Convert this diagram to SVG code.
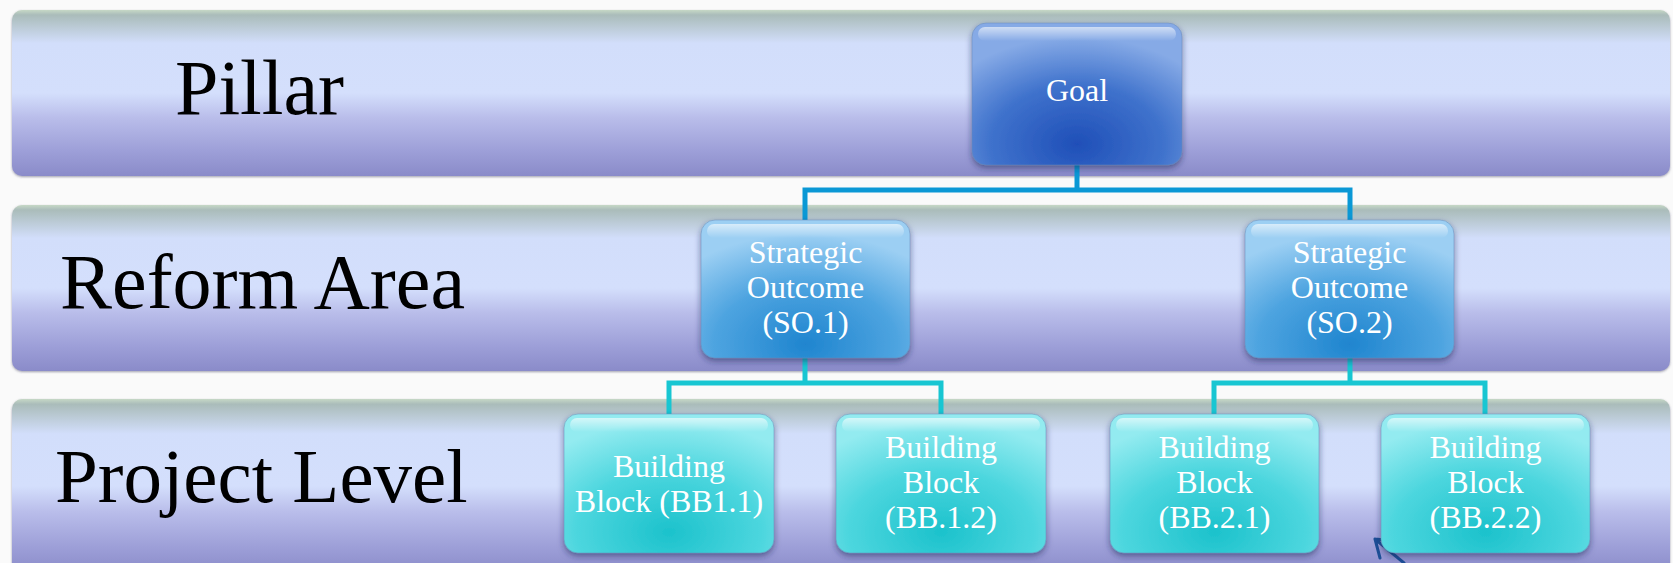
<svg xmlns="http://www.w3.org/2000/svg" width="1673" height="563" viewBox="0 0 1673 563">
<defs>
<linearGradient id="band" x1="0" y1="0" x2="0" y2="1">
<stop offset="0" stop-color="#c6d8c6"/>
<stop offset="0.03" stop-color="#aabcba"/>
<stop offset="0.2" stop-color="#d2defb"/>
<stop offset="0.5" stop-color="#d4dffc"/>
<stop offset="0.65" stop-color="#b9bdea"/>
<stop offset="0.85" stop-color="#9d9fd8"/>
<stop offset="1" stop-color="#8a8bc9"/>
</linearGradient>
<radialGradient id="goalG" cx="0.5" cy="0.85" r="0.75">
<stop offset="0" stop-color="#1f4fb8"/>
<stop offset="0.55" stop-color="#3f72cc"/>
<stop offset="1" stop-color="#86aae6"/>
</radialGradient>
<radialGradient id="soG" cx="0.5" cy="0.9" r="0.8">
<stop offset="0" stop-color="#1f85cf"/>
<stop offset="0.55" stop-color="#4ea4e0"/>
<stop offset="1" stop-color="#9ccff3"/>
</radialGradient>
<radialGradient id="bbG" cx="0.5" cy="0.85" r="0.8">
<stop offset="0" stop-color="#1cc2cc"/>
<stop offset="0.55" stop-color="#4cd6de"/>
<stop offset="1" stop-color="#93ebf0"/>
</radialGradient>
<linearGradient id="gloss" x1="0" y1="0" x2="0" y2="1">
<stop offset="0" stop-color="#ffffff" stop-opacity="0.6"/>
<stop offset="1" stop-color="#ffffff" stop-opacity="0"/>
</linearGradient>
<filter id="sh" x="-10%" y="-10%" width="120%" height="130%">
<feDropShadow dx="0" dy="3" stdDeviation="3" flood-color="#1c2a5a" flood-opacity="0.55"/>
</filter>
<filter id="bsh" x="-2%" y="-10%" width="104%" height="130%">
<feDropShadow dx="0" dy="1" stdDeviation="1.2" flood-color="#404060" flood-opacity="0.5"/>
</filter>
<style>
.band{fill:url(#band);filter:url(#bsh);}
.lbl{font-family:"Liberation Serif","DejaVu Serif",serif;fill:#000;}
.nt{font-family:"Liberation Serif","DejaVu Serif",serif;fill:#ffffff;font-size:32px;text-anchor:middle;}
.box{stroke:#6a8ab8;stroke-width:1;stroke-opacity:0.5;filter:url(#sh);}
.gl{fill:url(#gloss);}
.c1{fill:none;stroke:#0a98d5;stroke-width:5;}
.c2{fill:none;stroke:#18c6d2;stroke-width:5;}
</style>
</defs>
<rect width="1673" height="563" fill="#fafafa"/>

<g id="band-pillar">
<rect class="band" x="12" y="10" width="1658" height="166" rx="10"/>
<text class="lbl" x="175" y="114" font-size="78">Pillar</text>
</g>
<g id="band-reform">
<rect class="band" x="12" y="205" width="1658" height="166" rx="10"/>
<text class="lbl" x="60" y="308" font-size="78">Reform Area</text>
</g>
<g id="band-project">
<rect class="band" x="12" y="399" width="1658" height="174" rx="10"/>
<text class="lbl" x="55" y="502" font-size="77">Project Level</text>
</g>

<g id="connectors">
<path class="c1" d="M1077 160 V190 H805 V222 M1077 190 H1350 V222"/>
<path class="c2" d="M805 352 V383 H669 V416 M805 383 H941 V416"/>
<path class="c2" d="M1350 352 V383 H1214 V416 M1350 383 H1485 V416"/>
<path fill="none" stroke="#1c4f96" stroke-width="3" stroke-linecap="round" d="M1404 563 L1375 539 M1375 539 L1396 541 M1375 539 L1380 558"/>
</g>

<g id="goal">
<rect class="box" x="972" y="23" width="210" height="142" rx="14" fill="url(#goalG)"/>
<rect class="gl" x="978" y="27" width="198" height="14" rx="7"/>
<text class="nt" x="1077" y="101">Goal</text>
</g>

<g id="so1">
<rect class="box" x="701" y="220" width="209" height="138" rx="14" fill="url(#soG)"/>
<rect class="gl" x="707" y="224" width="197" height="14" rx="7"/>
<text class="nt" x="805.5" y="263">Strategic</text>
<text class="nt" x="805.5" y="298">Outcome</text>
<text class="nt" x="805.5" y="333">(SO.1)</text>
</g>
<g id="so2">
<rect class="box" x="1245" y="220" width="209" height="138" rx="14" fill="url(#soG)"/>
<rect class="gl" x="1251" y="224" width="197" height="14" rx="7"/>
<text class="nt" x="1349.5" y="263">Strategic</text>
<text class="nt" x="1349.5" y="298">Outcome</text>
<text class="nt" x="1349.5" y="333">(SO.2)</text>
</g>

<g id="bb11">
<rect class="box" x="564" y="414" width="210" height="139" rx="14" fill="url(#bbG)"/>
<rect class="gl" x="570" y="418" width="198" height="14" rx="7"/>
<text class="nt" x="669" y="477">Building</text>
<text class="nt" x="669" y="512">Block (BB1.1)</text>
</g>
<g id="bb12">
<rect class="box" x="836" y="414" width="210" height="139" rx="14" fill="url(#bbG)"/>
<rect class="gl" x="842" y="418" width="198" height="14" rx="7"/>
<text class="nt" x="941" y="458">Building</text>
<text class="nt" x="941" y="493">Block</text>
<text class="nt" x="941" y="528">(BB.1.2)</text>
</g>
<g id="bb21">
<rect class="box" x="1110" y="414" width="209" height="139" rx="14" fill="url(#bbG)"/>
<rect class="gl" x="1116" y="418" width="197" height="14" rx="7"/>
<text class="nt" x="1214.5" y="458">Building</text>
<text class="nt" x="1214.5" y="493">Block</text>
<text class="nt" x="1214.5" y="528">(BB.2.1)</text>
</g>
<g id="bb22">
<rect class="box" x="1381" y="414" width="209" height="139" rx="14" fill="url(#bbG)"/>
<rect class="gl" x="1387" y="418" width="197" height="14" rx="7"/>
<text class="nt" x="1485.5" y="458">Building</text>
<text class="nt" x="1485.5" y="493">Block</text>
<text class="nt" x="1485.5" y="528">(BB.2.2)</text>
</g>
</svg>
